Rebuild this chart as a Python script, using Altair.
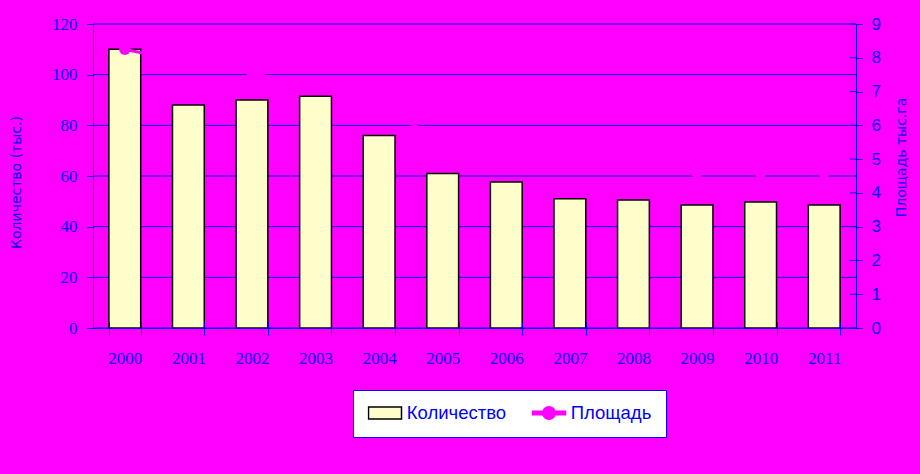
import altair as alt
import pandas as pd

# Yearly figures: number of holdings (thousands) and their area (thousand ha)
years = ["2000", "2001", "2002", "2003", "2004", "2005",
         "2006", "2007", "2008", "2009", "2010", "2011"]
count_values = [110, 88, 90, 91.5, 76, 61, 57.6, 51, 50.5, 48.6, 49.7, 48.6]
area_values = [8.25, 7.85, 7.55, 7.15, 6.5, 5.6, 5.2, 4.9, 4.8, 4.6, 4.6, 4.6]

count_ticks = [0, 20, 40, 60, 80, 100, 120]
area_ticks = [0, 1, 2, 3, 4, 5, 6, 7, 8, 9]
series = ["Количество", "Площадь"]

BLUE = "#0000FF"
MAGENTA = "#FF00FF"
CREAM = "#FFFFCC"
W, H = 763, 304

# legend glyphs: a flat box for the bars, a line with a dot for the area series
RECT_PATH = "M-1,-0.36H1V0.36H-1Z"
LINE_DOT_PATH = ("M-1,-0.1H1V0.1H-1Z "
                 "M0.38,0A0.38,0.38 0 1,1 -0.38,0A0.38,0.38 0 1,1 0.38,0Z")

df = pd.DataFrame({"year": years, "count": count_values, "area": area_values})
grid_df = pd.DataFrame({"v": count_ticks})
rtick_df = pd.DataFrame({"v": area_ticks})
legend_df = pd.DataFrame({"series": series})

x_scale = alt.Scale(paddingInner=0.5, paddingOuter=0.25)
left_scale = alt.Scale(domain=[0, 120])
right_scale = alt.Scale(domain=[0, 9])

# horizontal grid at the left-axis ticks, drawn under the bars
grid = alt.Chart(grid_df).mark_rule(color=BLUE, strokeWidth=1).encode(
    y=alt.Y("v:Q", scale=left_scale, axis=None),
    x=alt.value(0),
    x2=alt.value(W),
)

bars = alt.Chart(df).mark_bar(fill=CREAM, stroke="black", strokeWidth=1.5).encode(
    x=alt.X(
        "year:N", sort=years, scale=x_scale,
        axis=alt.Axis(
            orient="bottom", tickBand="extent", tickSize=7, labelAngle=0,
            labelFont="Liberation Serif", labelFontSize=17, labelColor=BLUE,
            labelPadding=15, domainColor=BLUE, tickColor=BLUE, title=None,
            grid=False, zindex=1,
        ),
    ),
    y=alt.Y(
        "count:Q", scale=left_scale,
        axis=alt.Axis(
            orient="left", values=count_ticks, grid=False,
            domainColor=BLUE, tickColor=BLUE, tickSize=6,
            labelFont="Liberation Serif", labelFontSize=17, labelColor=BLUE,
            labelPadding=10,
            title="Количество (тыс.)", titleFont="DejaVu Sans",
            titleFontSize=14, titleFontWeight="normal", titleColor=BLUE,
            titleAngle=270, titleX=-77, titleY=158,
            titleAlign="center", titleBaseline="middle", zindex=1,
        ),
    ),
)

line = alt.Chart(df).mark_line(color=MAGENTA, strokeWidth=3).encode(
    x=alt.X(
        "year:N", sort=years, scale=x_scale,
        axis=alt.Axis(
            orient="top", offset=-H, labels=False, domain=False,
            tickSize=6, tickColor=BLUE, tickBand="extent", grid=False,
            title=None, zindex=1,
        ),
    ),
    y=alt.Y(
        "area:Q", scale=right_scale,
        axis=alt.Axis(
            orient="right", values=area_ticks, grid=False,
            domainColor=BLUE, tickColor=BLUE, tickSize=6,
            labelFont="Liberation Sans", labelFontSize=17, labelColor=BLUE,
            labelPadding=9,
            title="Площадь тыс.га", titleFont="DejaVu Sans",
            titleFontSize=14, titleFontWeight="normal", titleColor=BLUE,
            titleAngle=270, titleX=45, titleY=133,
            titleAlign="center", titleBaseline="middle", zindex=1,
        ),
    ),
)

points = alt.Chart(df).mark_point(filled=True, size=130, color=MAGENTA, opacity=1).encode(
    x=alt.X("year:N", sort=years, axis=None),
    y=alt.Y("area:Q", scale=right_scale, axis=None),
)

# inner half of the crossing ticks on the right axis
rticks = alt.Chart(rtick_df).mark_rule(color=BLUE, strokeWidth=1).encode(
    y=alt.Y("v:Q", scale=right_scale, axis=None),
    x=alt.value(W - 6),
    x2=alt.value(W),
)

legend_opts = dict(title=None, orient="none", legendX=260, legendY=366,
                   direction="horizontal", columns=2)

legend_layer = alt.Chart(legend_df).mark_point(filled=True, opacity=0).encode(
    fill=alt.Fill("series:N", sort=series,
                  scale=alt.Scale(domain=series, range=[CREAM, MAGENTA]),
                  legend=alt.Legend(**legend_opts)),
    stroke=alt.Stroke("series:N", sort=series,
                      scale=alt.Scale(domain=series, range=["#000000", MAGENTA]),
                      legend=alt.Legend(**legend_opts)),
    shape=alt.Shape("series:N", sort=series,
                    scale=alt.Scale(domain=series, range=[RECT_PATH, LINE_DOT_PATH]),
                    legend=alt.Legend(**legend_opts)),
)

chart = (
    alt.layer(grid, bars, line, points, rticks, legend_layer)
    .resolve_scale(y="independent")
    .resolve_axis(x="independent", y="independent")
    .properties(
        width=W,
        height=H,
        autosize=alt.AutoSizeParams(type="none"),
        padding={"left": 93, "top": 24, "right": 920 - 93 - W, "bottom": 474 - 24 - H},
        background=MAGENTA,
    )
    .configure_view(stroke=None)
    .configure_legend(
        fillColor="#FFFFFF", strokeColor=BLUE, padding=14.5, cornerRadius=0,
        clipHeight=17, symbolSize=1089, symbolStrokeWidth=1.5, symbolOpacity=1,
        labelFont="Liberation Sans", labelFontSize=18.5, labelColor=BLUE,
        labelOffset=4.25, columnPadding=25, labelLimit=400,
    )
)

chart.save("out.html", embed_options={"renderer": "svg", "actions": False})
